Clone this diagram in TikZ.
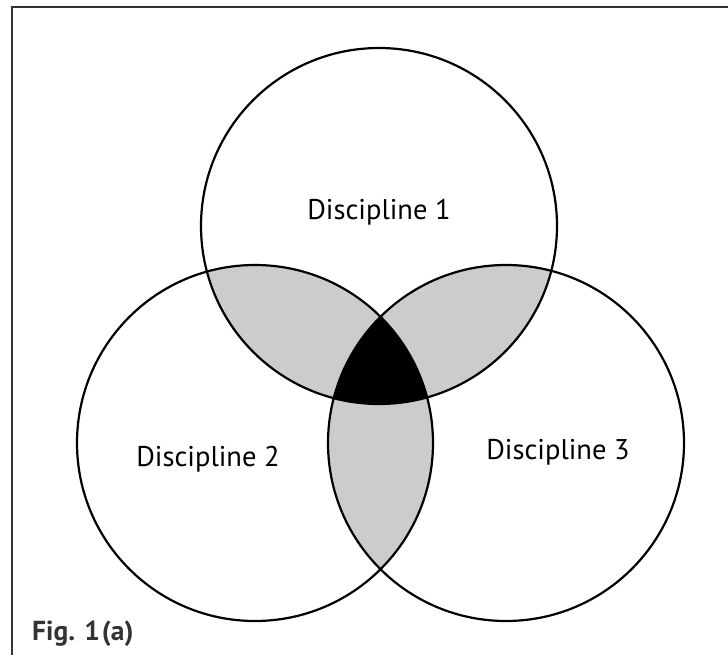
\documentclass[tikz,border=0pt]{standalone}
\usepackage{fontspec}
\setmainfont{PT Sans}
\definecolor{lens}{HTML}{CCCCCC}
\definecolor{framec}{HTML}{333333}
\begin{document}
\begin{tikzpicture}[x=1pt,y=-1pt,
  ring/.style={draw=black,line width=2.2pt},
  framestyle/.style={draw=framec,line width=2pt},
  label/.style={font=\fontsize{28.5}{32}\selectfont,inner sep=0pt},
  figlabel/.style={font=\bfseries\fontsize{27.5}{30}\selectfont,text=framec,inner sep=0pt,anchor=base west}]
\useasboundingbox (0,0) rectangle (728,655);
\fill[white] (0,0) rectangle (728,655);
\def\R{178}
\coordinate (T) at (379,226);
\coordinate (L) at (255,443);
\coordinate (Rc) at (506,443);
% pairwise lenses
\begin{scope}\clip (T) circle (\R); \fill[lens] (L) circle (\R); \fill[lens] (Rc) circle (\R);\end{scope}
\begin{scope}\clip (L) circle (\R); \fill[lens] (Rc) circle (\R);\end{scope}
% triple intersection
\begin{scope}\clip (T) circle (\R); \clip (L) circle (\R); \fill[black] (Rc) circle (\R);\end{scope}
% circles
\draw[ring] (T) circle (\R);
\draw[ring] (L) circle (\R);
\draw[ring] (Rc) circle (\R);
% frame
\coordinate (f1) at (12,655);
\coordinate (f2) at (12,7);
\coordinate (f3) at (728,7);
\draw[framestyle] (f1) -- (f2) -- (f3);
% labels
\node[label] (d1) at (379,212) {Discipline 1};
\node[label] (d2) at (208,459) {Discipline 2};
\node[label] (d3) at (558,452) {Discipline 3};
\node[figlabel] (fig) at (32,640) {Fig. 1\kern2pt(a)};
\end{tikzpicture}
\end{document}
